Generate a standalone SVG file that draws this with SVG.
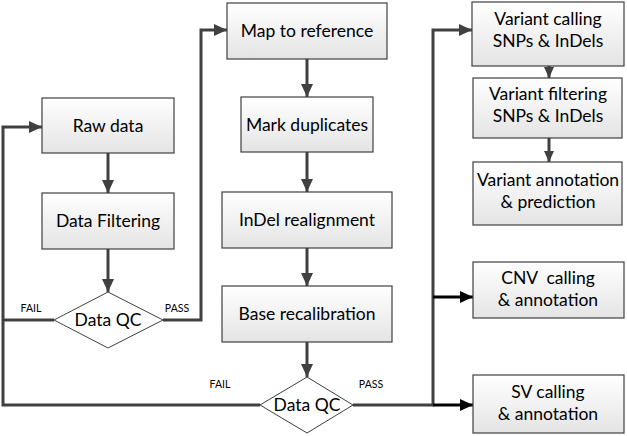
<svg xmlns="http://www.w3.org/2000/svg" width="627" height="436" viewBox="0 0 627 436">
<style>
.box{fill:url(#g);stroke:#404040;stroke-width:1.2}
.dia{fill:#fff;stroke:#404040;stroke-width:1}
.t{font-family:Lato,"Open Sans","Liberation Sans",sans-serif;font-size:17.5px;fill:#000;text-anchor:middle;white-space:pre}
.lab{font-family:Lato,"Open Sans","Liberation Sans",sans-serif;font-size:10.5px;fill:#000;text-anchor:middle}
.c{fill:none;stroke:#404040;stroke-width:3}
.k{fill:none;stroke:#000;stroke-width:3}
</style>
<defs>
<linearGradient id="g" x1="0" y1="0" x2="0" y2="1">
<stop offset="0" stop-color="#ffffff"/>
<stop offset="1" stop-color="#e4e4e4"/>
</linearGradient>
<marker id="a" markerUnits="userSpaceOnUse" markerWidth="14" markerHeight="14" viewBox="0 0 14 14" refX="13" refY="7" orient="auto">
<path d="M0,1 L13,7 L0,13 z" fill="#404040"/>
</marker>
<marker id="ak" markerUnits="userSpaceOnUse" markerWidth="14" markerHeight="14" viewBox="0 0 14 14" refX="13" refY="7" orient="auto">
<path d="M0,1 L13,7 L0,13 z" fill="#000"/>
</marker>
<marker id="as" markerUnits="userSpaceOnUse" markerWidth="12" markerHeight="12" viewBox="0 0 12 12" refX="11" refY="6" orient="auto">
<path d="M0,1 L11,6 L0,11 z" fill="#404040"/>
</marker>
</defs>
<g id="connectors">
<path class="c" d="M108,153 V193" marker-end="url(#a)"/>
<path class="c" d="M108,249 V292" marker-end="url(#a)"/>
<path class="c" d="M163,320 H201 V30 H227" marker-end="url(#a)"/>
<path class="c" d="M54,320 H3"/>
<path class="c" d="M260,405 H3 V127 H42" marker-end="url(#a)"/>
<path class="c" d="M307,59 V97" marker-end="url(#a)"/>
<path class="c" d="M307,152 V192" marker-end="url(#a)"/>
<path class="c" d="M307,248 V286" marker-end="url(#a)"/>
<path class="c" d="M307,342 V377" marker-end="url(#a)"/>
<path class="c" d="M353,405 H433 V30 H472" marker-end="url(#a)"/>
<path class="k" d="M433,297 H473" marker-end="url(#ak)"/>
<path class="k" d="M433,405 H473" marker-end="url(#ak)"/>
<path class="c" d="M549,66 V78" marker-end="url(#as)"/>
<path class="c" d="M549,138 V162" marker-end="url(#as)"/>
</g>
<g id="raw-data"><rect class="box" x="42" y="98" width="132" height="55"/><text class="t" x="108" y="132">Raw data</text></g>
<g id="data-filtering"><rect class="box" x="42" y="193" width="132" height="56"/><text class="t" x="108" y="227">Data Filtering</text></g>
<g id="data-qc-1"><path class="dia" d="M108,292 L163,320 L108,348 L54,320 z"/><text class="t" x="108" y="326">Data QC</text></g>
<text class="lab" x="31" y="312">FAIL</text>
<text class="lab" x="177" y="312">PASS</text>
<g id="map-to-reference"><rect class="box" x="227" y="3" width="160" height="56"/><text class="t" x="307" y="37">Map to reference</text></g>
<g id="mark-duplicates"><rect class="box" x="241" y="97" width="132" height="55"/><text class="t" x="307" y="131">Mark duplicates</text></g>
<g id="indel-realignment"><rect class="box" x="222" y="192" width="170" height="56"/><text class="t" x="307" y="226">InDel realignment</text></g>
<g id="base-recalibration"><rect class="box" x="222" y="286" width="170" height="56"/><text class="t" x="307" y="320">Base recalibration</text></g>
<g id="data-qc-2"><path class="dia" d="M307,377 L353,405 L307,433 L260,405 z"/><text class="t" x="307" y="411">Data QC</text></g>
<text class="lab" x="220" y="388">FAIL</text>
<text class="lab" x="371" y="388">PASS</text>
<g id="variant-calling"><rect class="box" x="472" y="2" width="152" height="64"/><text class="t" x="548" y="25">Variant calling</text><text class="t" x="548" y="47">SNPs &amp; InDels</text></g>
<g id="variant-filtering"><rect class="box" x="473" y="78" width="149" height="60"/><text class="t" x="548" y="100">Variant filtering</text><text class="t" x="548" y="122">SNPs &amp; InDels</text></g>
<g id="variant-annotation"><rect class="box" x="473" y="162" width="149" height="63"/><text class="t" x="548" y="186">Variant annotation</text><text class="t" x="548" y="208">&amp; prediction</text></g>
<g id="cnv-calling"><rect class="box" x="473" y="262" width="151" height="56"/><text class="t" x="548" y="284">CNV  calling</text><text class="t" x="548" y="306">&amp; annotation</text></g>
<g id="sv-calling"><rect class="box" x="473" y="375" width="151" height="58"/><text class="t" x="548" y="398">SV calling</text><text class="t" x="548" y="420">&amp; annotation</text></g>
</svg>
